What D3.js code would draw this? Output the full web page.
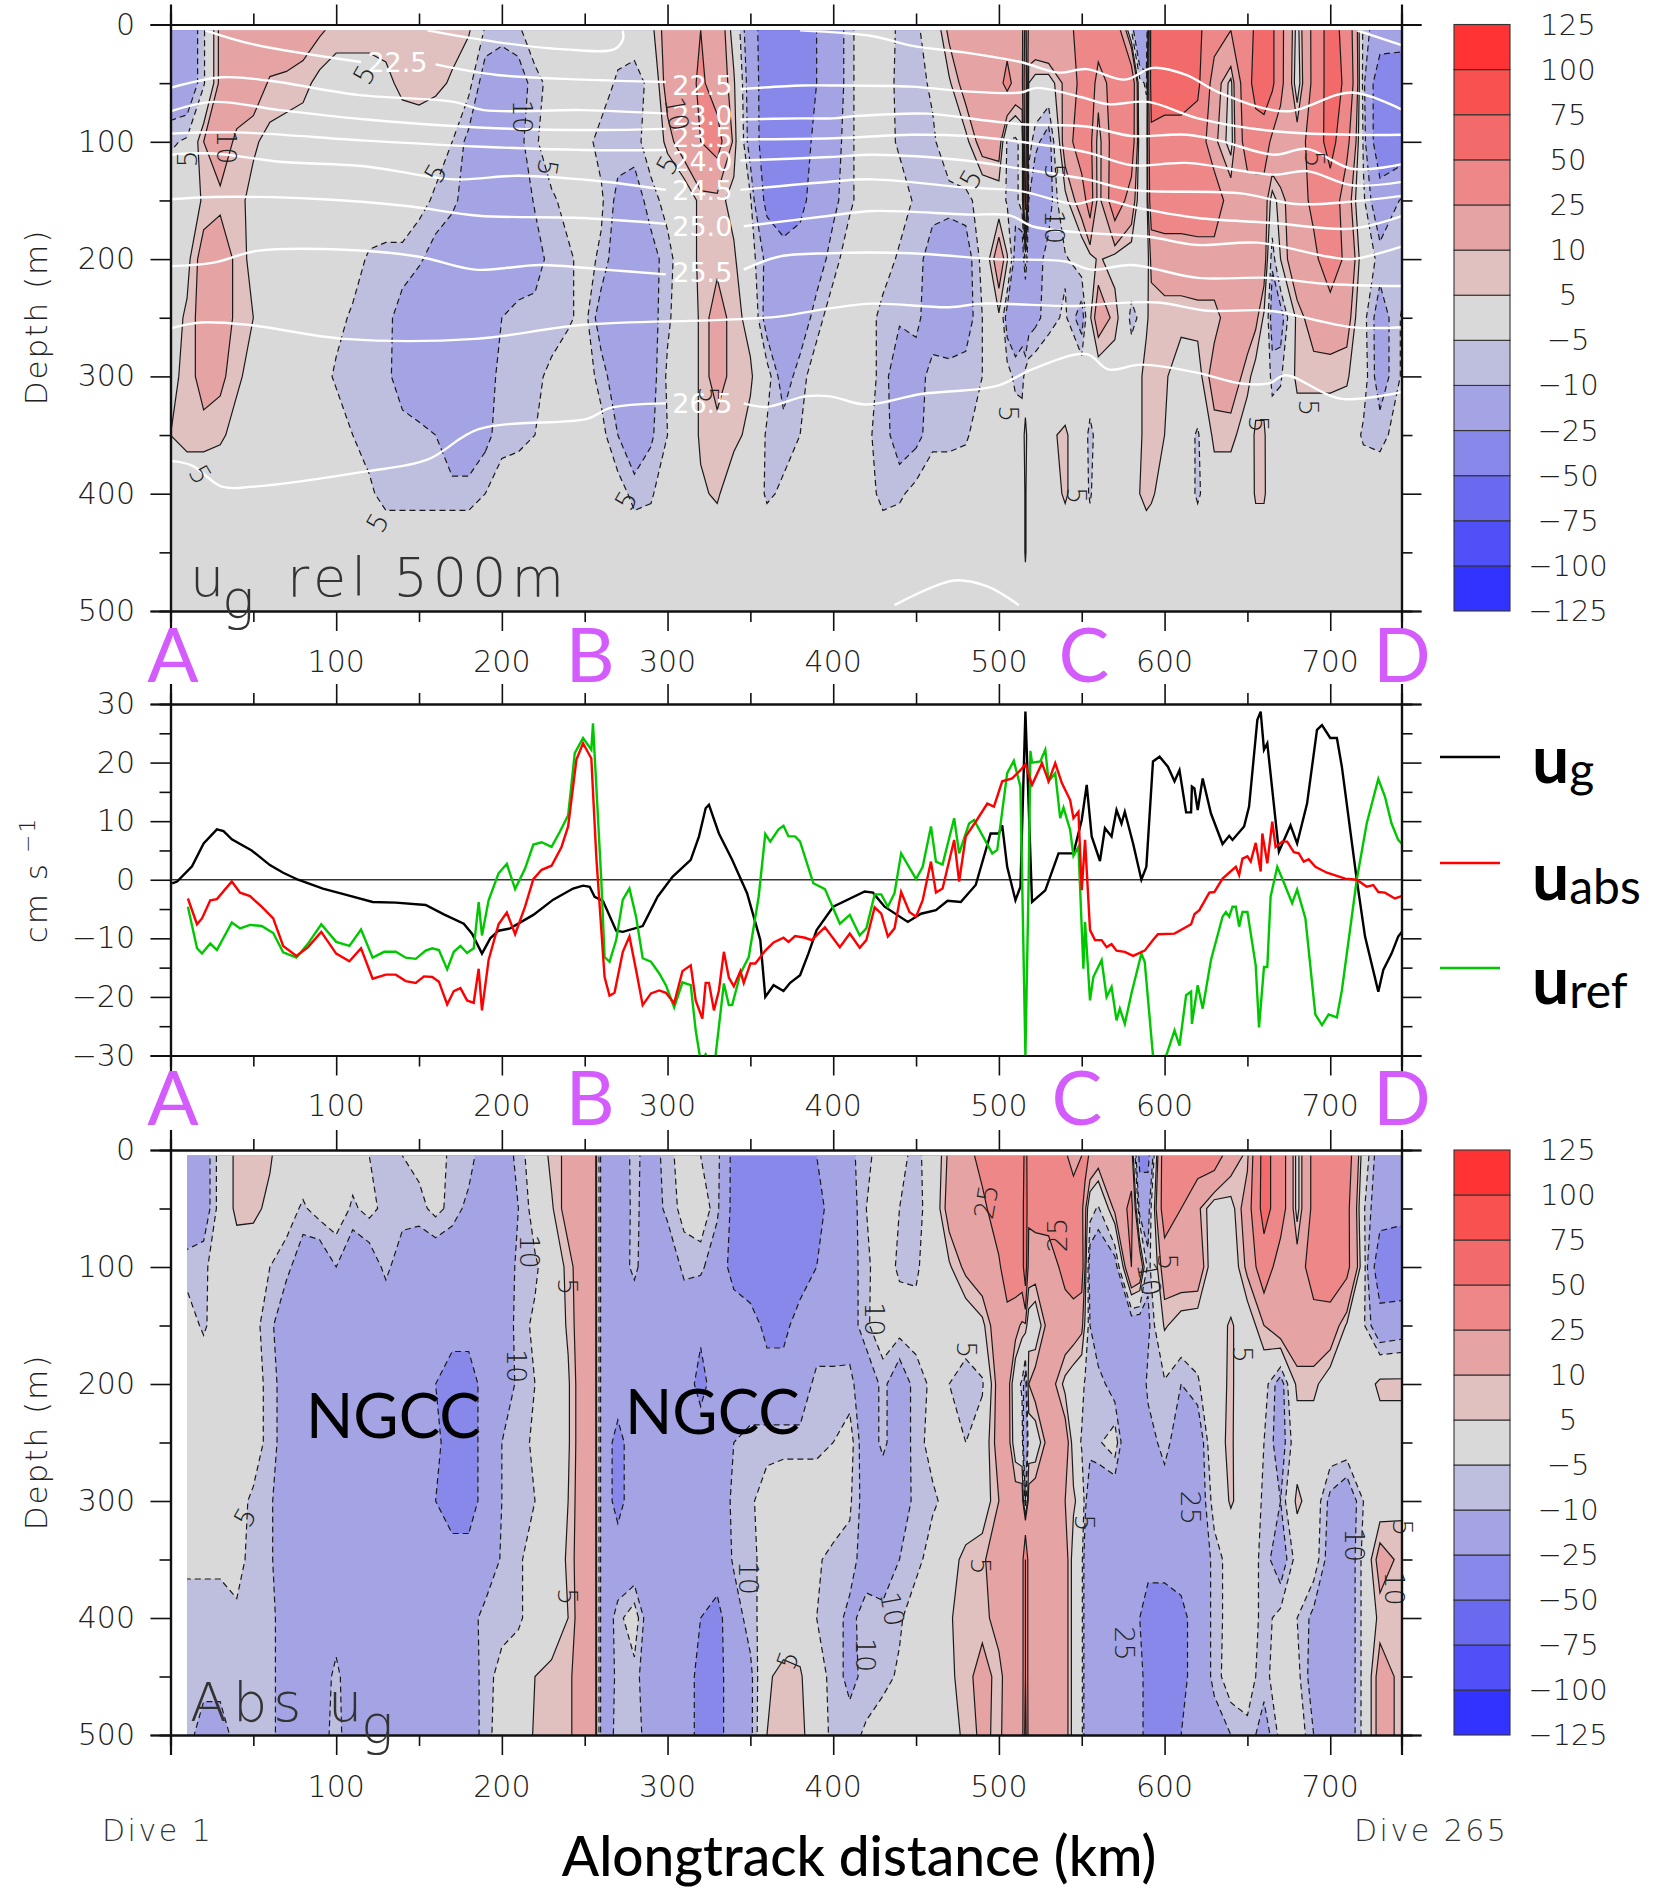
<!DOCTYPE html>
<html>
<head>
<meta charset="utf-8">
<script src="https://cdn.jsdelivr.net/npm/d3@7"></script>
<style>
body { margin: 0; background: #fff; }
.thin { font-family: "DejaVu Sans"; font-weight: 200; }
.gill { font-family: "Lato"; }
</style>
</head>
<body>
<script>
// colour bands, bottom to top
const levels = [-125, -100, -75, -50, -25, -10, -5, 5, 10, 25, 50, 75, 100, 125];
const bandColors = ["#3333ff", "#5050f8", "#6a6af0", "#8888eb", "#a4a4e4", "#bebedf", "#d9d9d9", "#e1c0c0", "#e6a3a3", "#ee8888", "#f36a6a", "#f95050", "#ff3333"];
const xTickLabels = [100, 200, 300, 400, 500, 600, 700];

// --- top panel: ug relative to 500 m, cm/s
const p1Km = [0,10,20,30,40,50,60,70,80,90, 100,110,120,130,140,150,160,170,180,190, 200,210,220,230,240,250,260,270,280,290, 300,310,320,330,340,350,360,370,380,390, 400,410,420,430,440,450,460,470,480,490, 500,505,510,514,516,518,522,530,540,550, 555,560,570,580,585,589,592,600,610,620, 630,640,650,655,660,665,670,680,690,700, 710,720,730,745];
const p1Depth = [5, 50, 100, 150, 200, 250, 300, 350, 400, 450, 500];
const p1d5 = [-17,-17,-6,12,17,17,17,17,14,11, 8,8,8,8,8,8,8,8,6,-6, -7,-6,-1,0,0,0,0,-2,-1,3, 14,20,25,17,2,-17,-35,-40,-40,-25, -17,-6,-2,-2,-6,-6,-2,12,17,18, 20,18,18,18,60,20,20,25,20,30, 40,40,40,-5,-25,-25,62,65,62,55, 35,25,25,60,62,55,30,2,30,62, 40,-7,-15,-15];
const p1d50 = [-17,-17,-6,12,17,15,9,8,7,3, 1,1,1,3,7,8,7,4,-3,-14, -17,-14,-7,-3,-1,0,-2,-6,-8,-3, 14,17,28,17,6,-15,-35,-42,-42,-25, -17,-6,-2,-3,-6,-7,-4,4,14,17, 20,30,20,20,70,5,2,1,12,30, 40,15,35,40,-3,-6,60,62,62,55, 15,3,40,60,65,55,30,0,30,62, 45,-8,-37,-40];
const p1d100 = [-6,-4,10,16,8,6,3,2,1,1, 0,0,0,0,0,0,-2,-5,-12,-17, -17,-12,-6,-1,0,-3,-7,-7,-7,-2, 7,15,25,32,8,-14,-35,-38,-35,-20, -14,-6,-2,-2,-6,-7,-6,-1,3,14, 15,-6,-7,-2,70,-2,-8,-14,15,37, 30,5,35,37,0,-1,45,40,40,38, 12,2,35,37,37,20,17,15,35,60, 30,-6,-38,-35];
const p1d150 = [0,0,6,8,7,3,1,0,0,0, 0,0,0,0,0,-3,-6,-8,-14,-17, -17,-17,-9,-6,-3,-1,-4,-12,-14,-7, -3,-1,7,7,3,-4,-30,-38,-30,-17, -12,-6,-2,-2,-2,-6,-7,-7,-7,-2, 0,-6,-7,-2,60,-10,-17,-14,3,15, 35,5,37,17,0,-1,38,38,38,38, 38,15,15,15,15,2,8,15,30,38, 15,-4,-17,-8];
const p1d200 = [0,3,14,16,8,3,0,0,0,0, 0,-2,-6,-7,-7,-9,-13,-17,-17,-17, -17,-17,-14,-7,-6,-3,-6,-15,-17,-13, -7,-1,7,8,6,-2,-12,-17,-17,-14, -7,-2,0,-2,-6,-7,-14,-17,-14,-3, 16,6,-14,-17,-2,-17,-14,-7,-6,-1, 2,6,2,0,0,0,12,15,15,17, 17,17,17,17,15,-9,5,17,20,38, 20,0,-7,-7];
const p1d250 = [2,6,14,16,8,5,0,0,0,0, -3,-6,-7,-8,-13,-17,-17,-17,-17,-17, -10,-7,-7,-7,-6,-3,-14,-17,-17,-13, -6,-1,6,14,7,3,-14,-17,-15,-7, -2,0,-2,-7,-9,-8,-15,-17,-14,-5, 4,-14,-16,-12,-25,-14,-12,-7,-4,-14, 4,15,8,-7,-4,4,7,7,7,7, 7,15,15,12,4,-14,-14,7,14,15, 14,-3,-14,-3];
const p1d300 = [4,6,14,12,6,3,0,0,0,-2, -6,-7,-7,-8,-14,-17,-17,-17,-17,-15, -7,-7,-6,-4,-1,-2,-7,-15,-17,-13, -4,-1,6,14,7,6,-2,-14,-7,-2, 0,0,-2,-7,-16,-14,-7,-7,-7,-5, -1,-2,-7,-8,-2,-1,0,0,0,0, 0,0,0,0,4,7,7,6,1,2, 14,15,7,2,2,-7,-6,7,7,7, 6,-2,-14,-3];
const p1d350 = [5,7,7,6,3,0,0,0,0,0, -1,-5,-7,-7,-7,-8,-10,-17,-17,-12, -7,-7,-5,-1,0,0,-3,-10,-16,-11, -5,-1,6,7,7,3,-6,-7,-5,-1, 0,0,-4,-7,-14,-12,-7,-7,-6,-1, 4,1,0,0,8,0,0,4,6,0, -7,-2,0,0,4,7,7,5,0,-6, 7,7,1,6,6,-1,0,0,0,0, 0,-6,-7,-1];
const p1d400 = [0,0,0,0,0,0,0,0,0,0, 0,0,-4,-7,-7,-7,-7,-7,-7,-5, -2,0,0,0,0,0,0,-2,-7,-6, 0,0,4,6,0,0,-6,-4,0,0, 0,0,-2,-7,-6,-3,0,0,0,0, 4,0,0,0,6,0,0,1,6,0, -6,0,0,0,5,7,6,2,0,-6, 0,0,0,6,6,0,0,0,0,0, 0,0,0,0];
const p1d450 = [0,0,0,0,0,0,0,0,0,0, 0,0,0,0,0,0,0,0,0,0, 0,0,0,0,0,0,0,0,0,0, 0,0,0,0,0,0,0,0,0,0, 0,0,0,0,0,0,0,0,0,0, 0,0,0,0,6,0,0,0,0,0, 0,0,0,0,0,0,0,0,0,0, 0,0,0,0,0,0,0,0,0,0, 0,0,0,0];
const p1d500 = [0,0,0,0,0,0,0,0,0,0, 0,0,0,0,0,0,0,0,0,0, 0,0,0,0,0,0,0,0,0,0, 0,0,0,0,0,0,0,0,0,0, 0,0,0,0,0,0,0,0,0,0, 0,0,0,0,0,0,0,0,0,0, 0,0,0,0,0,0,0,0,0,0, 0,0,0,0,0,0,0,0,0,0, 0,0,0,0];

// --- bottom panel: absolute ug, cm/s
const p3Km = [10,20,30,40,50,60,70,80,90,100, 110,120,130,140,150,160,170,180,190,200, 210,220,230,240,250,255,258,261,270,280, 290,300,310,320,330,340,350,360,370,380, 390,400,410,420,430,440,450,460,470,480, 490,500,505,510,514,516,518,522,530,540, 545,550,552,555,560,570,580,585,590,600, 610,620,630,640,650,660,670,680,690,700, 710,720,730,745];
const p3Depth = [5, 50, 100, 150, 200, 250, 300, 350, 400, 450, 500];
const p3d5 = [-17,-15,-2,7,7,6,-1,0,0,0, -2,-5,-6,-5,-3,-1,-7,-7,-15,-17, -7,-2,7,12,17,25,-2,-17,-15,-8, -14,-7,-2,-5,-7,-30,-37,-40,-40,-40, -25,-17,-12,-6,-3,-4,-6,-3,12,17, 32,37,37,37,37,60,37,37,37,28, 17,25,37,20,15,17,15,-30,-30,37, 37,35,35,15,8,60,35,2,30,37, 35,0,-15,-15];
const p3d50 = [-17,-15,-2,7,7,3,-2,-6,-2,-1, -6,-3,-7,-7,-7,-3,-7,-12,-17,-17, -10,-2,4,14,17,25,-2,-17,-16,-8, -15,-8,-3,-1,-8,-30,-40,-40,-40,-40, -32,-17,-14,-5,-2,-5,-7,-2,14,17, 20,37,37,37,38,70,30,32,32,30, 38,30,12,-2,-6,12,30,-14,-14,35, 25,12,-1,2,15,60,35,2,30,37, 30,-4,-17,-20];
const p3d100 = [-7,-6,-2,0,-1,-5,-8,-15,-17,-10, -17,-15,-8,-15,-17,-17,-17,-17,-22,-17, -8,-6,-1,7,17,25,-2,-17,-15,-8, -17,-17,-8,-8,-17,-30,-38,-38,-38,-35, -25,-17,-14,-6,-2,-6,-6,-1,4,12, 17,22,37,37,38,70,15,15,17,30, 37,35,10,-15,-17,-15,25,20,-8,15, 17,17,-2,-1,12,37,15,15,35,37, 30,-1,-38,-38];
const p3d150 = [-2,-6,-1,0,-3,-8,-17,-17,-17,-17, -17,-17,-17,-17,-17,-17,-17,-17,-20,-17, -7,-4,-1,6,17,25,-2,-17,-17,-17, -17,-17,-17,-22,-17,-17,-17,-30,-30,-17, -17,-17,-14,-6,-1,-2,-3,-1,-2,-1, 3,17,17,14,8,8,1,-2,14,17, 15,12,4,-10,-17,-17,-17,-17,-12,6, 1,0,1,6,0,10,17,17,17,17, 4,-4,-17,-15];
const p3d200 = [0,0,0,0,-2,-7,-14,-17,-17,-17, -17,-17,-17,-17,-17,-25,-35,-35,-17,-17, -8,-5,-1,4,17,25,-2,-17,-17,-17, -17,-22,-17,-30,-17,-17,-17,-17,-17,-17, -7,-7,-8,-16,-8,-16,-7,-4,-5,-8, -6,14,15,-2,-6,-15,10,15,15,3, 0,-2,-6,-7,-7,-14,-17,-17,-8,-6, -10,-6,2,6,0,-2,-14,7,7,0, 0,0,7,7];
const p3d250 = [0,0,0,0,-2,-7,-14,-17,-17,-17, -17,-17,-17,-17,-17,-20,-35,-35,-17,-10, -7,-4,-1,4,17,25,-2,-17,-30,-17, -20,-17,-17,-17,-17,-10,-7,-7,-7,-7, -7,-5,-2,-16,-8,-16,-7,-3,-4,-5, -1,14,15,0,-2,-25,0,-1,14,15, 2,-6,-7,-7,-6,-1,-25,-25,-14,-7, -16,-17,3,6,-1,-5,-14,0,0,0, 0,0,0,0];
const p3d300 = [0,0,0,-3,-6,-9,-15,-17,-17,-17, -17,-17,-17,-17,-17,-25,-35,-35,-17,-10, -7,-5,-1,5,17,25,-2,-17,-30,-17, -17,-17,-17,-22,-17,-8,-6,-2,0,0, 0,0,-4,-14,-17,-17,-7,-6,-3,-1, 0,10,14,15,15,-10,14,17,17,10, 6,2,-8,-17,-17,-17,-20,-17,-17,-15, -17,-17,-2,6,0,-6,-10,7,0,-12, -17,-5,0,4];
const p3d350 = [-4,-4,-4,-3,-7,-9,-15,-17,-17,-17, -17,-17,-17,-17,-17,-22,-17,-17,-17,-9, -6,-2,0,6,17,25,-2,-17,-17,-17, -17,-17,-17,-17,-17,-9,-7,-2,0,0, -4,-7,-7,-14,-17,-10,-7,-2,2,7, 9,14,15,15,15,50,15,15,15,14, 2,-3,-14,-17,-17,-17,-25,-25,-17,-17, -17,-17,-8,-2,-1,-7,-15,-2,-1,-14, -17,-3,14,7];
const p3d400 = [-7,-7,-7,-6,-7,-8,-14,-17,-17,-14, -17,-17,-17,-17,-17,-17,-17,-14,-7,-7, -6,-2,0,5,17,25,-2,-17,-7,-1, -17,-17,-17,-25,-30,-14,-7,-2,0,0, -5,-7,-12,-7,-7,-6,-1,0,4,9, 7,14,15,15,15,50,15,15,15,14, 2,-3,-14,-17,-17,-17,-20,-25,-37,-37, -30,-17,-8,-2,-1,-7,-3,-5,-12,-17, -17,-3,7,7];
const p3d450 = [-7,-7,-7,-7,-7,-8,-14,-17,-15,-8, -16,-17,-17,-17,-17,-17,-17,-15,-7,-3, -1,5,7,8,17,25,-2,-17,-8,-7, -17,-17,-17,-30,-30,-17,-12,4,7,6, -2,-7,-12,-8,-7,-4,-1,0,4,7, 14,7,14,15,15,50,15,15,15,14, 2,-3,-14,-17,-17,-17,-20,-17,-37,-37, -30,-17,-8,-1,-3,-7,-1,-3,-14,-17, -17,-3,14,7];
const p3d500 = [-7,-14,-14,-7,-7,-8,-14,-17,-14,-7, -16,-17,-17,-17,-17,-17,-17,-15,-7,-2, -1,6,7,8,17,25,-2,-17,-7,-6, -15,-17,-17,-30,-30,-17,-12,5,7,7, 0,-7,-7,-4,-1,0,0,0,3,6, 12,8,14,15,15,60,15,15,15,14, 2,-3,-14,-17,-17,-17,-17,-17,-37,-37, -25,-17,-14,-10,-6,-14,-3,0,-10,-17, -17,-3,14,7];

// --- isopycnals [km, depth], null marks the gap left for a label
const sigma220a = [[155,5],[197,15],[236,21],[268,21],[273,13],[273,5]];
const sigma220b = [[380,5],[424,10],[447,18],[480,24],[513,32],[536,41],[553,38],[576,47],[593,37],[613,43],[633,58],[673,74],[713,58],[744,73]];
const sigma220c = [[716,5],[744,18]];
const sigma225 = [[21,5],[50,17],[115,32],[137,null],[160,34],[197,43],[249,47],[299,49],[320,null],[344,55],[381,52],[398,52],[447,53],[480,57],[513,58],[523,54],[550,62],[566,68],[590,66],[620,80],[666,91],[713,94],[744,94]];
const sigma230 = [[0,54],[31,45],[60,48],[113,60],[171,66],[189,73],[249,73],[299,76],[320,null],[344,81],[381,80],[400,80],[414,78],[457,76],[487,81],[513,85],[553,87],[580,95],[613,94],[633,99],[666,111],[686,106],[713,123],[744,119]];
const sigma235 = [[0,74],[26,66],[66,73],[118,81],[189,88],[255,90],[299,89],[320,null],[344,98],[400,97],[447,94],[480,95],[513,100],[553,109],[580,120],[613,118],[666,128],[686,125],[713,137],[744,134]];
const sigma240 = [[0,93],[39,92],[118,99],[184,104],[249,107],[299,107],[320,null],[344,116],[398,113],[424,111],[480,116],[513,123],[553,132],[580,141],[646,144],[679,153],[713,151],[744,146]];
const sigma245 = [[0,111],[26,110],[66,117],[118,121],[171,132],[210,129],[262,134],[299,141],[320,null],[344,141],[398,134],[424,132],[480,139],[513,142],[546,153],[560,149],[586,157],[620,165],[663,169],[713,174],[744,163]];
const sigma250 = [[0,149],[26,147],[92,149],[144,155],[186,163],[249,165],[299,170],[320,null],[346,172],[398,163],[424,159],[480,162],[507,163],[520,172],[546,177],[590,181],[620,188],[656,186],[699,198],[713,200],[744,189]];
const sigma255 = [[0,206],[26,203],[52,193],[105,192],[150,198],[184,209],[223,205],[262,209],[299,213],[320,null],[346,209],[367,198],[398,195],[447,195],[497,200],[540,202],[556,209],[580,205],[620,216],[663,216],[696,221],[744,223]];
const sigma260 = [[0,259],[18,254],[47,256],[105,268],[184,268],[249,256],[328,252],[367,249],[398,242],[424,238],[470,241],[490,238],[546,240],[566,238],[596,237],[626,244],[663,244],[713,258],[744,258]];
const sigma265 = [[0,372],[13,376],[31,394],[50,394],[118,381],[155,371],[186,345],[252,336],[265,327],[299,323],[320,null],[346,323],[360,326],[383,317],[398,317],[420,324],[453,315],[499,308],[520,294],[553,281],[566,294],[586,290],[620,297],[646,306],[663,306],[673,299],[706,319],[744,313]];
const sigma270 = [[437,495],[473,474],[493,479],[512,495]];
const sigmaLines = [sigma220a, sigma220b, sigma220c, sigma225, sigma230, sigma235, sigma240, sigma245, sigma250, sigma255, sigma260, sigma265, sigma270];

// --- middle panel
const ugKm = [1,4,13,20,28,32,37,49,60,68,77,92,105,122,136,154,165,177,182,188,193,198,205,219,231,243,249,253,256,261,269,273,285,294,303,314,319,323,325,331,339,348,356,359,364,370,374,380,385,390,400,419,424,431,445,453,462,469,477,486,495,500,502,505,510,513,516,520,528,536,545,550,553,556,561,564,568,571,574,576,581,586,589,593,597,602,606,609,613,616,616.5,618,620,623,628,635,639,641,648,651,656,658,660,662,669,676,680,686,692,695,700,704,707,716,721,729,732,737,741,744];
const ugVal = [-0.6,-0.3,2.3,6.2,8.6,8.3,6.9,5,2.5,1.2,0,-1.5,-2.5,-3.8,-3.9,-4.3,-5.9,-7.5,-9.2,-12.6,-10,-8.7,-8.3,-6,-3.4,-1.5,-1,-1.2,-2.9,-3.6,-8.7,-8.9,-7.9,-2.9,0.5,3.4,7.4,12.2,12.8,7.9,3.4,-2.3,-10.3,-20,-18,-19,-17.6,-16.3,-12.6,-8.6,-4.6,-2,-2.2,-4.6,-7.2,-5.8,-5.2,-3.6,-3.8,-0.9,7.9,7.9,9.3,2.2,-3.5,-1.2,28.7,-3.8,-1.8,4.5,4.5,10.2,16.2,7.4,3.2,8.8,7.4,11.9,9.6,11.6,6.2,0,2.2,20.2,21,19.3,16.8,18.7,11.5,11.5,15.9,15.6,11.9,17.3,11.3,6.1,7.5,6.8,9.1,12.5,27.3,28.7,22.2,23.3,4.8,9.3,6.2,13,25.6,26.4,24.2,24.2,19.3,0,-9.7,-19.1,-15.4,-12.6,-9.7,-8.6];
const uabsKm = [10.5,16,19,24,28,37,42,48,55,62,68,76,83,91,100,108,115,122,130,136,142,148,153,158,162,167,171,175,179,183,186,188,192,198,203,208,214,219,224,230,236,240,245,249,254,257,262,265,268,273,277,281,285,290,295,299,304,309,314,317,321,323,325,328,331,334,337,340,344,346,350,353,359,364,370,373,377,383,387,395,404,410,416,420,425,429,433,437,441,446,450,454,459,462,466,473,476,480,486,493,497,502,508,513,516,520,526,530,534,538,543,545,548,550,552,555,558,562,565,568,571,576,581,588,593,596,606,616,618,621,627,630,635,643,645,647,650,652,655,658,659,662,665,667,671,674,678,681,684,687,691,698,709,716,722,726,729,733,739,744];
const uabsVal = [-3.2,-7.6,-6.6,-3.5,-3.3,-0.3,-2.2,-2.8,-4.6,-6.6,-11.3,-13,-11.5,-8.9,-12.6,-13.9,-11.7,-16.9,-16.2,-16.2,-17.3,-17.6,-16.5,-16.6,-17.4,-21.3,-19,-18.5,-20.6,-21,-15.2,-22.3,-13.7,-7.6,-5.6,-9.3,-4.6,0.1,1.7,2.4,5.6,9.1,20.5,23.3,20.7,3.9,-16.6,-19.8,-19.3,-12.3,-9.7,-15.4,-21.4,-19.4,-18.9,-19.3,-21.1,-15.6,-14.6,-20.6,-23.7,-17.6,-17.6,-22.3,-18.9,-12.3,-16.7,-18.2,-15.6,-17.6,-14.3,-14.3,-12.1,-10.7,-9.9,-10.6,-9.6,-9.9,-10.3,-8.1,-11.5,-9.2,-11.6,-10.3,-4.7,-5.8,-9.7,-8.3,-2.1,-5.5,-6.3,-3.5,3.1,-2.2,-1.5,6.8,-0.3,7.4,9.9,13,12.5,16.8,17.3,18.7,19.7,16.2,19.9,16.8,19.9,16.5,13.6,10.5,11.6,-1.8,6.8,-8.6,-10.3,-10.3,-11.5,-11,-12.1,-12.3,-13,-12.1,-10.3,-9.3,-9.2,-7.6,-5.9,-5.2,-2.2,-2.1,0.2,2.2,0.8,3.6,4,3.1,6.3,1.4,7.9,2.8,9.9,5.6,6.5,6.5,4.7,4.5,3.1,3.5,2.2,1.2,0.2,0,-1.2,-0.9,-2.1,-2.2,-3.2,-2.7];
const urefKm = [10.5,16,19,24,28,37,42,48,55,62,68,76,83,91,100,108,115,122,129,136,142,148,154,158,162,167,171,175,179,183,186,188,192,198,203,208,214,219,224,230,235,240,244,249,254,255,260,262,265,269,273,277,281,285,290,295,299,304,309,314,317,320,323,325,329,334,337,339,344,349,355,359,362,367,370,373,377,380,388,395,404,410,416,420,425,429,433,437,441,450,454,459,462,466,473,476,482,485,496,499,505,509,513,516,518,519,520,525,528,530,534,537,539,543,545,548,551,552,555,557,562,565,568,571,573,576,580,586,588,593,595,601,606,609,613,616,616.5,620,623,628,635,637,639,641,643,645,647,650,655,657,660,662,664,668,671,677,680,685,691,695,699,704,707,716,722,729,733,737,741,744];
const urefVal = [-4.6,-11.7,-12.6,-10.9,-12,-7.3,-8.3,-7.7,-7.9,-9.1,-12.4,-13.3,-10.9,-7.6,-10.6,-11.3,-8.5,-13.3,-12.3,-12.3,-13.3,-13.5,-12.1,-11.7,-12,-15.3,-12.3,-11.3,-12.5,-11.7,-3.8,-9.5,-3.5,1.1,2.7,-1.6,1.9,6,6.4,5.6,8.2,11,21.6,24.2,22.2,26.7,0,-13.2,-14,-10.3,-3.4,-1.5,-6.3,-13.4,-14,-16,-18,-21.8,-17.5,-18,-25.7,-31,-29.8,-31,-30,-17.7,-21.4,-21.4,-16,-13.2,-2.9,7.8,6.5,8.6,9.2,7.4,7.4,6.5,-0.6,-1.6,-7.5,-6,-9.5,-8.3,-2.5,-2.5,-4.6,-2.3,4.5,0.1,2.2,9.1,3.1,2.6,10.5,4.5,9.6,10.2,4.5,5.1,18.2,20.3,15.9,-30,0.5,22,20,20.2,22.2,16.8,18.2,10.5,12.3,8.5,4.1,5.6,-15.2,-7.2,-20.6,-16.6,-13.7,-20,-18.3,-24,-22,-24.6,-19.4,-12.6,-14,-30,-30.5,-30,-25.7,-28.3,-19.7,-19.1,-24.6,-18,-22,-13.7,-6.3,-5.5,-6.3,-4.6,-4.6,-8,-5.5,-5.5,-14.6,-25.2,-14.9,-14.9,-2.9,2.2,0.2,-4,-1.7,-6.6,-23,-24.8,-23,-23.5,-18.9,0,9.6,17.2,14.2,9.6,6.8,5.9];

const W = 1663, H = 1889;
const svg = d3.select("body").append("svg").attr("width", W).attr("height", H);
const x = d3.scaleLinear().domain([0, 743]).range([170.5, 1401.5]);

function tickRow(g, axisFn, scale, majors, minors, majorLen, minorLen) {
    g.call(axisFn(scale).tickValues(minors).tickSize(minorLen).tickFormat(""));
    const a = g.append("g");
    a.call(axisFn(scale).tickValues(majors).tickSize(majorLen).tickFormat(""));
    g.selectAll("path.domain").attr("stroke", "#111").attr("stroke-width", 2.2);
    g.selectAll("line").attr("stroke", "#111").attr("stroke-width", 1.6);
}

function frame(top, bottom, y, yMajor, yMinor) {
    const xMajor = xTickLabels;
    const xMinor = [50, 150, 250, 350, 450, 550, 650];
    tickRow(svg.append("g").attr("transform", `translate(0,${top})`), d3.axisTop, x, xMajor, xMinor, 20, 11);
    tickRow(svg.append("g").attr("transform", `translate(0,${bottom})`), d3.axisBottom, x, xMajor, xMinor, 20, 11);
    tickRow(svg.append("g").attr("transform", `translate(${x(0)},0)`), d3.axisLeft, y, yMajor, yMinor, 20, 11);
    tickRow(svg.append("g").attr("transform", `translate(${x(743)},0)`), d3.axisRight, y, yMajor, yMinor, 20, 11);
}

function xLabels(baseline) {
    svg.append("g").selectAll("text").data(xTickLabels).join("text")
        .attr("class", "thin").attr("x", d => x(d)).attr("y", baseline)
        .attr("text-anchor", "middle").attr("font-size", 30).attr("fill", "#222").text(d => d);
}

function yLabels(y, vals) {
    svg.append("g").selectAll("text").data(vals).join("text")
        .attr("class", "thin").attr("x", 135).attr("y", d => y(d) + 10)
        .attr("text-anchor", "end").attr("font-size", 30).attr("fill", "#222")
        .text(d => d < 0 ? "\u2212" + (-d) : d);
}

function contourPanel(id, km, depth, rows, y, kmStart) {
    rows.forEach((r, i) => {
        if (r.length !== km.length) throw new Error(id + " row " + i + " has " + r.length + " not " + km.length);
    });
    // one padded cell all round so the ring closures stay outside the clip
    const pKm = [km[0] - 15, ...km, km[km.length - 1] + 15];
    const pDepth = [depth[0] - 15, ...depth, depth[depth.length - 1] + 15];
    const pRows = [rows[0], ...rows, rows[rows.length - 1]];
    const n = pKm.length, m = pDepth.length;
    const values = [];
    pRows.forEach(r => { values.push(r[0], ...r, r[r.length - 1]); });

    const ix = d3.scaleLinear().domain(pKm.map((d, i) => i + 0.5)).range(pKm.map(d => x(d)));
    const iy = d3.scaleLinear().domain(pDepth.map((d, i) => i + 0.5)).range(pDepth.map(d => y(d)));
    const path = d3.geoPath(d3.geoTransform({ point(a, b) { this.stream.point(ix(a), iy(b)); } }));

    svg.append("clipPath").attr("id", id).append("rect")
        .attr("x", x(kmStart)).attr("y", y(5))
        .attr("width", x(743) - x(kmStart)).attr("height", y(500) - y(5));
    const g = svg.append("g").attr("clip-path", `url(#${id})`);

    g.append("rect").attr("x", x(kmStart)).attr("y", y(5))
        .attr("width", x(743) - x(kmStart)).attr("height", y(500) - y(5))
        .attr("fill", bandColors[0]);

    const ts = levels.slice(1, 13);
    const bands = d3.contours().size([n, m]).thresholds(ts)(values);
    g.selectAll("path.fill").data(bands).join("path").attr("class", "fill")
        .attr("d", path).attr("fill", (d, i) => bandColors[i + 1]);
    g.selectAll("path.iso").data(bands).join("path").attr("class", "iso")
        .attr("d", path).attr("fill", "none").attr("stroke", "#1a1a1a").attr("stroke-width", 1.2)
        .attr("stroke-dasharray", d => d.value < 0 ? "6,4" : null);
    return g;
}

function contourLabels(labels, y) {
    svg.append("g").selectAll("text").data(labels).join("text")
        .attr("class", "thin").attr("text-anchor", "middle").attr("font-size", 27).attr("fill", "#222")
        .attr("transform", d => `translate(${x(d[1])},${y(d[2]) + 9}) rotate(${d[3]})`)
        .text(d => d[0]);
}

function colorBar(top, bottom) {
    const barY = d3.scalePoint().domain(d3.range(14)).range([top, bottom]);
    const g = svg.append("g");
    g.selectAll("rect").data(bandColors).join("rect")
        .attr("x", 1454).attr("width", 56)
        .attr("y", (d, i) => barY(13 - i - 1))
        .attr("height", barY(1) - barY(0))
        .attr("fill", d => d).attr("stroke", "#333").attr("stroke-width", 1.1);
    g.selectAll("text").data(levels).join("text")
        .attr("class", "thin").attr("x", 1568).attr("y", (d, i) => barY(13 - i) + 10)
        .attr("text-anchor", "middle").attr("font-size", 29).attr("fill", "#222")
        .text(d => d < 0 ? "\u2212" + (-d) : d);
}

function bigText(cls, px, base, size, fill, s, spacing) {
    svg.append("text").attr("class", cls).attr("x", px).attr("y", base)
        .attr("font-size", size).attr("fill", fill).attr("letter-spacing", spacing || 0).text(s);
}

// top panel
const y1 = d3.scaleLinear().domain([0, 500]).range([24.5, 611]);
const g1 = contourPanel("clip1", p1Km, p1Depth, [p1d5, p1d50, p1d100, p1d150, p1d200, p1d250, p1d300, p1d350, p1d400, p1d450, p1d500], y1, 0);
const sigmaLine = d3.line().defined(d => d[1] !== null).curve(d3.curveCatmullRom).x(d => x(d[0])).y(d => y1(d[1]));
g1.selectAll("path.sigma").data(sigmaLines).join("path").attr("class", "sigma")
    .attr("d", sigmaLine).attr("fill", "none").attr("stroke", "#fff").attr("stroke-width", 2.4);
const sigmaLabels = [["22.5", 137, 32], ["22.5", 321, 52], ["23.0", 321, 77], ["23.5", 321, 96], ["24.0", 321, 116], ["24.5", 321, 141], ["25.0", 321, 172], ["25.5", 321, 211], ["26.5", 321, 323]];
svg.append("g").selectAll("text").data(sigmaLabels).join("text")
    .attr("font-family", "DejaVu Sans").attr("text-anchor", "middle").attr("font-size", 27).attr("fill", "#fff")
    .attr("x", d => x(d[1])).attr("y", d => y1(d[2]) + 10).text(d => d[0]);
contourLabels([["5", 122, 39, -60], ["10", 207, 71, 90], ["5", 222, 113, 100], ["5", 165, 123, -60], ["10", 28, 97, 90], ["5", 16, 107, -90], ["5", 13, 380, 60], ["5", 130, 421, -60], ["5", 280, 402, -60], ["5", 319, 308, 90], ["10", 300, 70, 80], ["5", 305, 116, -60], ["5", 488, 128, -60], ["5", 528, 118, 90], ["10", 528, 165, 90], ["5", 500, 324, 90], ["5", 541, 394, 90], ["5", 651, 333, 90], ["5", 681, 319, 90], ["5", 685, 107, 90]], y1);
frame(24.5, 611, y1, [0, 100, 200, 300, 400, 500], [50, 150, 250, 350, 450]);
yLabels(y1, [0, 100, 200, 300, 400, 500]);
xLabels(672);
colorBar(24.5, 611);
bigText("thin", 190, 596, 54, "#333", "u", 0);
bigText("thin", 222, 618, 54, "#333", "g", 0);
bigText("thin", 287, 596, 54, "#333", "rel  500m", 5);

// middle panel
const y2 = d3.scaleLinear().domain([-30, 30]).range([1055.5, 704]);
svg.append("clipPath").attr("id", "clip2").append("rect")
    .attr("x", x(0)).attr("y", 704).attr("width", x(743) - x(0)).attr("height", 351.5);
const g2 = svg.append("g").attr("clip-path", "url(#clip2)");
g2.append("line").attr("x1", x(0)).attr("x2", x(743)).attr("y1", y2(0)).attr("y2", y2(0))
    .attr("stroke", "#333").attr("stroke-width", 1.3);
const lineOf = (km, val) => d3.line().x((d, i) => x(km[i])).y(d => y2(d))(val);
[[ugKm, ugVal, "#000"], [urefKm, urefVal, "#00c800"], [uabsKm, uabsVal, "#ff0000"]].forEach(s => {
    g2.append("path").attr("d", lineOf(s[0], s[1])).attr("fill", "none").attr("stroke", s[2]).attr("stroke-width", 2.4);
});
frame(704, 1055.5, y2, [-30, -20, -10, 0, 10, 20, 30], [-25, -15, -5, 5, 15, 25]);
yLabels(y2, [-30, -20, -10, 0, 10, 20, 30]);
xLabels(1116);

// bottom panel
const y3 = d3.scaleLinear().domain([0, 500]).range([1150, 1735]);
contourPanel("clip3", p3Km, p3Depth, [p3d5, p3d50, p3d100, p3d150, p3d200, p3d250, p3d300, p3d350, p3d400, p3d450, p3d500], y3, 10);
contourLabels([["5", 50, 310, -60], ["10", 211, 79, 90], ["10", 203, 177, 90], ["5", 234, 109, 90], ["5", 234, 374, 90], ["5", 378, 431, -70], ["10", 343, 358, 90], ["25", 498, 38, -80], ["25", 541, 65, -90], ["10", 585, 104, 80], ["5", 596, 88, 90], ["10", 419, 137, 90], ["5", 475, 163, 90], ["5", 546, 311, 90], ["25", 610, 298, 90], ["25", 570, 414, 90], ["10", 430, 386, 80], ["10", 414, 424, 90], ["5", 483, 348, 90], ["5", 641, 167, 90], ["10", 709, 330, 90], ["10", 733, 367, 90], ["5", 738, 315, 90]], y3);
frame(1150, 1735, y3, [0, 100, 200, 300, 400, 500], [50, 150, 250, 350, 450]);
yLabels(y3, [0, 100, 200, 300, 400, 500]);
xLabels(1797);
colorBar(1150, 1735);
bigText("gill", 306, 1438, 62, "#000", "NGCC", 0);
bigText("gill", 625, 1434, 62, "#000", "NGCC", 0);
bigText("thin", 190, 1721, 54, "#333", "Abs", 6);
bigText("thin", 328, 1721, 54, "#333", "u", 0);
bigText("thin", 361, 1743, 54, "#333", "g", 0);

// y titles
[["Depth  (m)", 317], ["cm  s", 880], ["Depth  (m)", 1442]].forEach(t => {
    const tx = svg.append("text").attr("class", "thin").attr("text-anchor", "middle")
        .attr("font-size", 31).attr("letter-spacing", 2).attr("fill", "#222")
        .attr("transform", `translate(47,${t[1]}) rotate(-90)`).text(t[0]);
    if (t[0] === "cm  s") tx.append("tspan").attr("dy", -12).attr("font-size", 22).text(" \u22121");
});

// section letters
const letterRows = [[682, [173, 590, 1084, 1402]], [1125, [173, 590, 1077, 1402]]];
letterRows.forEach(r => {
    ["A", "B", "C", "D"].forEach((s, i) => {
        svg.append("text").attr("class", "gill").attr("x", r[1][i]).attr("y", r[0])
            .attr("text-anchor", "middle").attr("font-size", 76).attr("fill", "#d45cff").text(s);
    });
});

// legend
[[757, "#000", "g", 783], [863, "#ff0000", "abs", 900], [968, "#00c800", "ref", 1004]].forEach(l => {
    svg.append("line").attr("x1", 1440).attr("x2", 1500).attr("y1", l[0]).attr("y2", l[0])
        .attr("stroke", l[1]).attr("stroke-width", 2.4);
    const t = svg.append("text").attr("class", "gill").attr("x", 1532).attr("y", l[3]).attr("fill", "#000");
    t.append("tspan").attr("font-size", 66).attr("font-weight", 700).text("u");
    t.append("tspan").attr("font-size", 48).attr("font-weight", 400).attr("dy", 4).text(l[2]);
});

bigText("thin", 102, 1841, 30, "#333", "Dive  1", 2.5);
bigText("thin", 1354, 1841, 30, "#333", "Dive  265", 2.5);
svg.append("text").attr("class", "gill").attr("x", 859).attr("y", 1876)
    .attr("text-anchor", "middle").attr("font-size", 55).attr("font-weight", 500).attr("fill", "#000")
    .text("Alongtrack distance (km)");
</script>
</body>
</html>
